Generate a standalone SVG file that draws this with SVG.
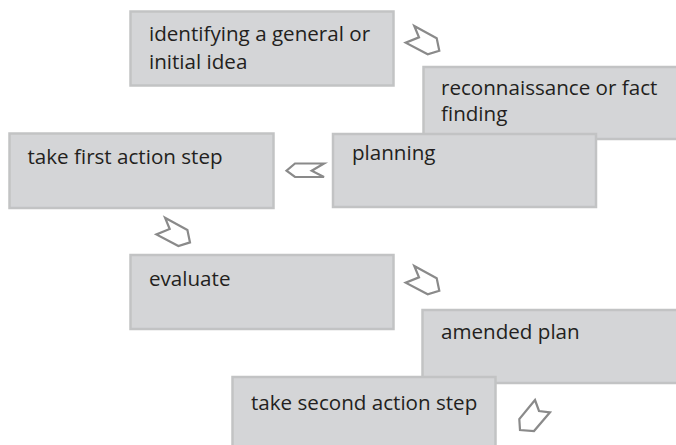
<svg xmlns="http://www.w3.org/2000/svg" width="676" height="445" viewBox="0 0 676 445">
<style>
.box{fill:#d4d5d7;stroke:#c2c3c4;stroke-width:2.5}
.t{font-family:"Open Sans",Lato,sans-serif;font-size:20.6px;fill:#231f20}
.arr{fill:#ffffff;stroke:#8a8a8a;stroke-width:2.2;stroke-linejoin:miter}
</style>
<rect width="676" height="445" fill="#ffffff"/>
<g id="connectors">
<polygon class="arr" points="414.3,26 419,37.3 405.7,42.7 427.7,54.3 439.3,50.7 436.7,38.3"/>
<polygon class="arr" points="324,163.5 311.7,170.7 324,177 295,177 286.5,170.7 295,163.5"/>
<polygon class="arr" points="165,217.7 169.7,229 156.4,234.4 178.4,246 190,242.4 187.4,230"/>
<polygon class="arr" points="414.3,266 419,277.3 405.7,282.7 427.7,294.3 439.3,290.7 436.7,278.3"/>
<polygon class="arr" points="535,400 539,411 550,412.3 534,431 520,430 519.3,419"/>
</g>
<g id="n1"><rect class="box" x="130.5" y="11.5" width="263" height="74"/>
<text class="t" x="149" y="40.5">identifying a general or</text>
<text class="t" x="149" y="68.5">initial idea</text></g>
<g id="n2"><rect class="box" x="423.5" y="67" width="264" height="72"/>
<text class="t" x="441" y="94.5">reconnaissance or fact</text>
<text class="t" x="441" y="121">finding</text></g>
<g id="n3"><rect class="box" x="333" y="134" width="263" height="73"/>
<text class="t" x="352" y="160">planning</text></g>
<g id="n4"><rect class="box" x="9.5" y="133.5" width="264" height="74.5"/>
<text class="t" x="27.5" y="164">take first action step</text></g>
<g id="n5"><rect class="box" x="130.5" y="255" width="263" height="74"/>
<text class="t" x="149" y="285.5">evaluate</text></g>
<g id="n6"><rect class="box" x="422.5" y="310" width="264" height="73"/>
<text class="t" x="441" y="339">amended plan</text></g>
<g id="n7"><rect class="box" x="232.5" y="377" width="263" height="80"/>
<text class="t" x="251" y="410">take second action step</text></g>
</svg>
